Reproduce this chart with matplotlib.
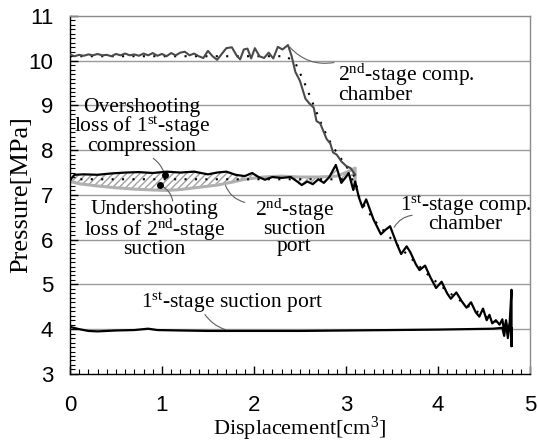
import numpy as np
import matplotlib
matplotlib.use("Agg")
import matplotlib.pyplot as plt
from matplotlib.ticker import MultipleLocator

plt.rcParams['mathtext.fontset'] = 'custom'
plt.rcParams['mathtext.rm'] = 'Liberation Serif'
plt.rcParams['mathtext.it'] = 'Liberation Serif:italic'

# 2nd-stage compression chamber (measured)
x_c2 = [0.00, 0.05, 0.10, 0.15, 0.20, 0.25, 0.30, 0.35, 0.40, 0.45, 0.50, 0.55, 0.60, 0.65,
        0.70, 0.75, 0.80, 0.85, 0.90, 0.95, 1.00, 1.05, 1.10, 1.15, 1.20, 1.25, 1.30, 1.35,
        1.40, 1.45, 1.50, 1.55, 1.60, 1.65, 1.70, 1.76, 1.81, 1.85, 1.89, 1.93, 1.97, 2.01,
        2.06, 2.11, 2.16, 2.21, 2.26, 2.31, 2.37, 2.41, 2.45, 2.50, 2.56, 2.60, 2.65, 2.68,
        2.72, 2.79, 2.83, 2.86, 2.90, 2.95, 3.00, 3.05, 3.10]
y_c2 = [10.14, 10.10, 10.13, 10.11, 10.14, 10.12, 10.15, 10.12, 10.13, 10.10, 10.15, 10.12,
        10.16, 10.12, 10.14, 10.11, 10.16, 10.12, 10.17, 10.11, 10.15, 10.10, 10.17, 10.12,
        10.18, 10.20, 10.12, 10.16, 10.10, 10.06, 10.22, 10.10, 10.02, 10.15, 10.28, 10.30,
        10.12, 10.03, 10.25, 10.27, 10.05, 10.28, 10.10, 10.06, 10.18, 10.05, 10.31, 10.25,
        10.35, 10.10, 9.75, 9.55, 9.15, 9.05, 8.95, 8.65, 8.60, 8.25, 8.15, 7.95, 7.90, 7.75,
        7.65, 7.60, 7.45]

# 1st-stage compression chamber / discharge (measured, black)
x_c1 = [0.00, 0.05, 0.15, 0.30, 0.45, 0.60, 0.75, 0.90, 1.05, 1.20, 1.35, 1.50, 1.60, 1.70,
        1.80, 1.90, 1.98, 2.05, 2.12, 2.20, 2.30, 2.40, 2.47, 2.52, 2.58, 2.64, 2.70, 2.76,
        2.82, 2.89, 2.95, 3.00, 3.03, 3.08, 3.10, 3.14, 3.18, 3.22, 3.30, 3.38, 3.43, 3.48,
        3.55, 3.60, 3.66, 3.70, 3.76, 3.80, 3.86, 3.92, 3.98, 4.04, 4.10, 4.14, 4.20, 4.26,
        4.31, 4.36, 4.41, 4.45, 4.49, 4.53, 4.56, 4.59, 4.63, 4.67, 4.70, 4.72, 4.74, 4.76,
        4.78, 4.80, 4.80, 4.80]
y_c1 = [7.33, 7.45, 7.46, 7.45, 7.48, 7.50, 7.51, 7.49, 7.52, 7.50, 7.52, 7.46, 7.50, 7.52,
        7.45, 7.42, 7.49, 7.40, 7.34, 7.40, 7.38, 7.40, 7.30, 7.22, 7.30, 7.24, 7.35, 7.27,
        7.40, 7.67, 7.27, 7.40, 7.49, 7.11, 7.30, 6.95, 6.72, 6.90, 6.45, 6.12, 6.22, 6.30,
        5.92, 5.68, 5.85, 5.72, 5.45, 5.32, 5.42, 5.15, 4.92, 5.06, 4.80, 4.68, 4.82, 4.62,
        4.48, 4.60, 4.38, 4.28, 4.46, 4.20, 4.32, 4.13, 4.20, 4.10, 4.22, 3.95, 4.20, 3.90,
        4.15, 4.88, 3.62, 4.02]

# 2nd-stage suction port (light gray)
x_sp2 = [0.00, 0.10, 0.30, 0.50, 0.70, 0.90, 1.05, 1.20, 1.40, 1.60, 1.75, 1.90, 2.10, 2.30,
         2.50, 2.70, 2.90, 3.00, 3.08, 3.10, 3.10]
y_sp2 = [7.30, 7.25, 7.20, 7.16, 7.13, 7.11, 7.10, 7.12, 7.17, 7.22, 7.28, 7.35, 7.40, 7.42,
         7.40, 7.40, 7.42, 7.50, 7.58, 7.60, 7.15]

# 1st-stage suction port
x_sp1 = [0.00, 0.10, 0.20, 0.30, 0.50, 0.70, 0.85, 0.95, 1.20, 1.50, 2.00, 2.50, 3.00, 3.50,
         4.00, 4.30, 4.60, 4.70, 4.72, 4.74, 4.76, 4.78, 4.80]
y_sp1 = [4.05, 4.00, 3.96, 3.95, 3.97, 3.98, 4.01, 3.98, 3.97, 3.96, 3.96, 3.96, 3.97, 3.98,
         3.99, 4.00, 4.01, 4.03, 3.85, 4.15, 3.80, 4.10, 4.00]

# theoretical (dotted)
x_th2 = [0.00, 2.35, 2.45, 2.55, 2.65, 2.75, 2.85, 2.95, 3.05, 3.10]
y_th2 = [10.10, 10.10, 9.95, 9.50, 9.00, 8.50, 8.10, 7.80, 7.50, 7.40]
x_th1 = [0.00, 3.10, 3.15, 3.30, 3.50, 3.70, 3.90, 4.10, 4.30, 4.50, 4.70, 4.80]
y_th1 = [7.35, 7.35, 6.90, 6.45, 6.00, 5.60, 5.20, 4.85, 4.55, 4.30, 4.10, 4.02]

fig = plt.figure(figsize=(5.38, 4.43), dpi=100)
ax = fig.add_axes([0.130, 0.156, 0.855, 0.808])

ax.set_xlim(0, 5)
ax.set_ylim(3, 11)
for yv in range(4, 11):
    ax.axhline(yv, color='#9a9a9a', linewidth=1.0, zorder=0)

# hatched loss region between discharge and suction port curves
n1 = x_c1.index(3.10)
poly_x = list(x_c1[:n1 + 1]) + list(x_sp2[:-1])[::-1]
poly_y = list(y_c1[:n1 + 1]) + list(y_sp2[:-1])[::-1]
ax.fill(poly_x, poly_y, facecolor='none', edgecolor='#a0a0a0', hatch='/////', linewidth=0, zorder=1)

ax.plot(x_sp2, y_sp2, color='#b0b0b0', linewidth=2.2, zorder=2)
ax.plot(x_th2, y_th2, color='black', linestyle=(0, (1, 4)), linewidth=1.5, zorder=3)
ax.plot(x_th1, y_th1, color='black', linestyle=(0, (1, 4)), linewidth=1.5, zorder=3)
ax.plot(x_c2, y_c2, color='#4a4a4a', linewidth=1.5, zorder=4)
ax.plot(x_c1, y_c1, color='black', linewidth=1.6, zorder=5)
ax.plot(x_sp1, y_sp1, color='black', linewidth=1.6, zorder=5)

ax.plot([1.03], [7.45], 'o', color='black', markersize=4, zorder=6)
ax.plot([0.98], [7.22], 'o', color='black', markersize=4, zorder=6)

tfont = dict(family='Liberation Serif', fontsize=15.5, linespacing=0.84)
lead = dict(arrowstyle='-', color='#606060', linewidth=0.8)

ax.annotate('', xy=(2.37, 10.35), xytext=(2.90, 9.97),
            arrowprops=dict(connectionstyle='arc3,rad=-0.3', **lead))
ax.text(2.91, 9.5, '2$^{\\rm nd}$-stage comp.\nchamber', ha='left', va='center', **tfont)

ax.text(0.78, 8.52, 'Overshooting\nloss of 1$^{\\rm st}$-stage\ncompression', ha='center', va='center', **tfont)
ax.annotate('', xy=(1.03, 7.45), xytext=(0.88, 7.85),
            arrowprops=dict(connectionstyle='arc3,rad=-0.2', **lead))

ax.text(0.92, 6.22, 'Undershooting\nloss of 2$^{\\rm nd}$-stage\nsuction', ha='center', va='center', **tfont)
ax.annotate('', xy=(0.98, 7.22), xytext=(1.12, 6.80),
            arrowprops=dict(connectionstyle='arc3,rad=0.3', **lead))

ax.text(2.44, 6.30, '2$^{\\rm nd}$-stage\nsuction\nport', ha='center', va='center', **tfont)
ax.annotate('', xy=(1.68, 7.27), xytext=(1.93, 6.82),
            arrowprops=dict(connectionstyle='arc3,rad=-0.3', **lead))

ax.text(4.30, 6.58, '1$^{\\rm st}$-stage comp.\nchamber', ha='center', va='center', **tfont)
ax.annotate('', xy=(3.51, 6.22), xytext=(3.75, 6.55),
            arrowprops=dict(connectionstyle='arc3,rad=0.3', **lead))

ax.text(1.76, 4.60, '1$^{\\rm st}$-stage suction port', ha='center', va='center', **tfont)
ax.annotate('', xy=(1.72, 3.97), xytext=(1.45, 4.38),
            arrowprops=dict(connectionstyle='arc3,rad=0.2', **lead))

ax.xaxis.set_major_locator(MultipleLocator(1))
ax.xaxis.set_minor_locator(MultipleLocator(0.1))
ax.yaxis.set_major_locator(MultipleLocator(1))
ax.yaxis.set_minor_locator(MultipleLocator(0.1))
ax.tick_params(which='both', direction='in', color='black')
ax.tick_params(which='major', length=6, width=1)
ax.tick_params(which='minor', length=3.5, width=0.8)
ax.tick_params(axis='x', which='major', pad=15)
ax.tick_params(axis='y', which='major', pad=12)
ax.tick_params(top=False, right=False)
for lab in ax.get_xticklabels() + ax.get_yticklabels():
    lab.set_family('Liberation Sans')
    lab.set_fontsize(16)

ax.spines['left'].set_color('black')
ax.spines['bottom'].set_color('black')
ax.spines['top'].set_color('#8a8a8a')
ax.spines['right'].set_color('#8a8a8a')
for s in ax.spines.values():
    s.set_linewidth(1.0)

ax.set_xlabel('Displacement[cm$^{3}$]', family='Liberation Serif', fontsize=16)
ax.set_ylabel('Pressure[MPa]', family='Liberation Serif', fontsize=19)
ax.xaxis.set_label_coords(0.5, -0.113)
ax.yaxis.set_label_coords(-0.082, 0.5)

fig.savefig('out.png', dpi=100)
